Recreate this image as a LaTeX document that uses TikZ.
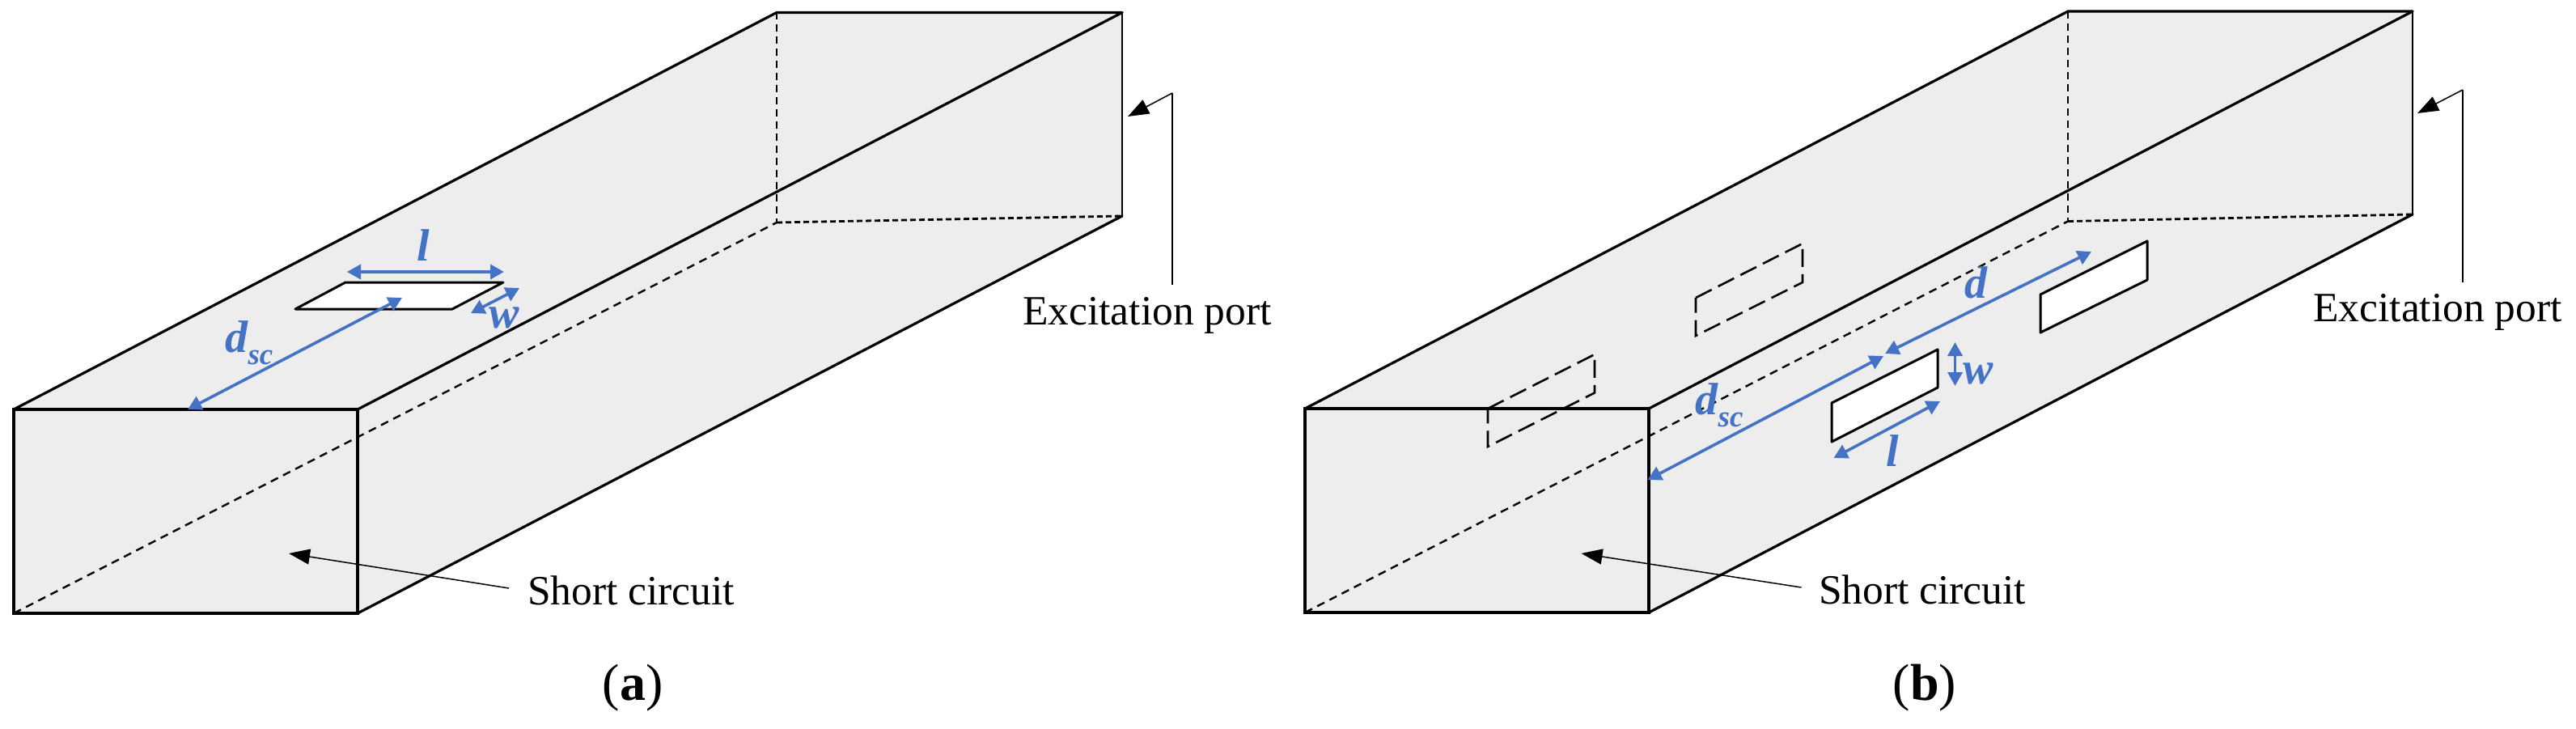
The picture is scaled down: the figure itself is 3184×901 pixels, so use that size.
\documentclass[tikz,border=0pt]{standalone}
\usepackage{fontspec}
\setmainfont{Liberation Serif}
\usetikzlibrary{arrows.meta}
\definecolor{facegray}{HTML}{EDEDED}
\definecolor{dimblue}{HTML}{4472C4}
\tikzset{
  face/.style={fill=facegray,draw=none},
  edge/.style={draw=black,line width=3.2pt,line cap=round},
  edgethin/.style={draw=black,line width=2.6pt,line cap=round},
  hiddenlong/.style={draw=black,line width=2.4pt,dash pattern=on 9pt off 6pt},
  hiddenshort/.style={draw=black,line width=2.8pt,dash pattern=on 7pt off 4pt},
  hiddendiag/.style={draw=black,line width=2.4pt,dash pattern=on 10pt off 7pt},
  slot/.style={fill=white,draw=black,line width=3pt,line join=round},
  ghostslot/.style={draw=black,line width=2.6pt,dash pattern=on 22pt off 9pt},
  dimline/.style={draw=dimblue,line width=3.6pt,{Triangle[length=17pt,width=18pt]}-{Triangle[length=17pt,width=18pt]}},
  leader/.style={draw=black,line width=1.5pt},
  pointer/.style={draw=black,line width=1.5pt,-{Triangle[length=26pt,width=19pt]}},
  caption/.style={inner sep=0pt,font=\fontsize{51.5}{51.5}\selectfont},
  subcap/.style={inner sep=0pt,font=\fontsize{64}{64}\selectfont},
  dimlabel/.style={inner sep=0pt,text=dimblue,font=\fontsize{56}{56}\selectfont\bfseries\itshape},
}
\newcommand{\dscsub}{d\raisebox{-0.26em}{\fontsize{37}{37}\selectfont sc}}
\begin{document}
\begin{tikzpicture}[x=1pt,y=-1pt]
\useasboundingbox (0,0) rectangle (3184,901);
% ---------- panel (a) ----------
\coordinate (aFL) at (17,506);
\coordinate (aFR) at (442,506);
\coordinate (aBR) at (442,758);
\coordinate (aBL) at (17,758);
\coordinate (aTL) at (960,15.5);
\coordinate (aTR) at (1387,15.5);
\coordinate (aRB) at (1387,267);
\coordinate (aIn) at (960,275);
\path[face] (aFL) -- (aTL) -- (aTR) -- (aRB) -- (aBR) -- (aBL) -- cycle;
\draw[hiddendiag] (aBL) -- (aIn);
\draw[hiddenlong] (aTL) -- (aIn);
\draw[hiddenshort] (aIn) -- (aRB);
\draw[edge] (aFL) -- (aTL) -- (aTR);
\draw[edge] (aFR) -- (aTR);
\draw[edge] (aBR) -- (aRB);
\draw[edgethin] (aTR) -- (aRB);
\draw[edge] (aFL) -- (aFR) -- (aBR) -- (aBL) -- cycle;
\coordinate (aS1) at (427,349);
\coordinate (aS2) at (622,349);
\coordinate (aS3) at (559,382);
\coordinate (aS4) at (365,382);
\draw[slot] (aS1) -- (aS2) -- (aS3) -- (aS4) -- cycle;
\coordinate (aL1) at (429,336);
\coordinate (aL2) at (623,336);
\draw[dimline] (aL1) -- (aL2);
\coordinate (aW1) at (582,387);
\coordinate (aW2) at (642,356);
\draw[dimline] (aW1) -- (aW2);
\coordinate (aD1) at (232,506);
\coordinate (aD2) at (497,368);
\draw[dimline] (aD1) -- (aD2);
\node[dimlabel] (alabL) at (523,303) {l};
\node[dimlabel] (alabW) at (623,393) {w};
\node[dimlabel] (alabD) at (308,424) {\dscsub};
\node[caption] (aExc) at (1418,390) {Excitation port};
\node[caption] (aSho) at (780,730) {Short circuit};
\coordinate (aP0) at (1449,352);
\coordinate (aP1) at (1449,115);
\coordinate (aP2) at (1394,144);
\draw[leader] (aP0) -- (aP1);
\draw[pointer] (aP1) -- (aP2);
\coordinate (aQ1) at (629,727);
\coordinate (aQ2) at (357,684);
\draw[pointer] (aQ1) -- (aQ2);
\node[subcap] (aCap) at (782,850) {(\textbf{a})};
% ---------- panel (b) ----------
\coordinate (bFL) at (1613,505);
\coordinate (bFR) at (2038,505);
\coordinate (bBR) at (2038,757);
\coordinate (bBL) at (1613,757);
\coordinate (bTL) at (2556,14);
\coordinate (bTR) at (2982,14);
\coordinate (bRB) at (2982,265);
\coordinate (bIn) at (2556,273.5);
\path[face] (bFL) -- (bTL) -- (bTR) -- (bRB) -- (bBR) -- (bBL) -- cycle;
\draw[hiddendiag] (bBL) -- (bIn);
\draw[hiddenlong] (bTL) -- (bIn);
\draw[hiddenshort] (bIn) -- (bRB);
\draw[edge] (bFL) -- (bTL) -- (bTR);
\draw[edge] (bFR) -- (bTR);
\draw[edge] (bBR) -- (bRB);
\draw[edgethin] (bTR) -- (bRB);
\draw[edge] (bFL) -- (bFR) -- (bBR) -- (bBL) -- cycle;
\coordinate (bS1) at (2264,498);
\coordinate (bS2) at (2395,432);
\coordinate (bS3) at (2395,479);
\coordinate (bS4) at (2264,546);
\draw[slot] (bS1) -- (bS2) -- (bS3) -- (bS4) -- cycle;
\coordinate (bT1) at (2522,364);
\coordinate (bT2) at (2654,298);
\coordinate (bT3) at (2654,346);
\coordinate (bT4) at (2522,411);
\draw[slot] (bT1) -- (bT2) -- (bT3) -- (bT4) -- cycle;
\coordinate (bG1) at (2096,368);
\coordinate (bG2) at (2228,301);
\coordinate (bG3) at (2228,349);
\coordinate (bG4) at (2096,415);
\draw[ghostslot] (bG1) -- (bG2) -- (bG3) -- (bG4) -- cycle;
\coordinate (bH1) at (1839,505);
\coordinate (bH2) at (1971,438);
\coordinate (bH3) at (1971,485.5);
\coordinate (bH4) at (1839,552);
\draw[ghostslot] (bH1) -- (bH2) -- (bH3) -- (bH4) -- cycle;
\coordinate (bD1) at (2036.6,593);
\coordinate (bD2) at (2328,440);
\draw[dimline] (bD1) -- (bD2);
\coordinate (bE1) at (2330,437);
\coordinate (bE2) at (2585,311);
\draw[dimline] (bE1) -- (bE2);
\coordinate (bW1) at (2416.5,423);
\coordinate (bW2) at (2416.5,477);
\draw[dimline] (bW1) -- (bW2);
\coordinate (bL1) at (2266.5,566);
\coordinate (bL2) at (2398,496);
\draw[dimline] (bL1) -- (bL2);
\node[dimlabel] (blabE) at (2442,349) {d};
\node[dimlabel] (blabD) at (2125,501) {\dscsub};
\node[dimlabel] (blabW) at (2445.5,462) {w};
\node[dimlabel] (blabL) at (2339,557) {l};
\node[caption] (bExc) at (3013,386) {Excitation port};
\node[caption] (bSho) at (2376,729) {Short circuit};
\coordinate (bP0) at (3044,349);
\coordinate (bP1) at (3044,111);
\coordinate (bP2) at (2988,140);
\draw[leader] (bP0) -- (bP1);
\draw[pointer] (bP1) -- (bP2);
\coordinate (bQ1) at (2226.5,726);
\coordinate (bQ2) at (1954.5,684);
\draw[pointer] (bQ1) -- (bQ2);
\node[subcap] (bCap) at (2379,850) {(\textbf{b})};
\end{tikzpicture}
\end{document}
